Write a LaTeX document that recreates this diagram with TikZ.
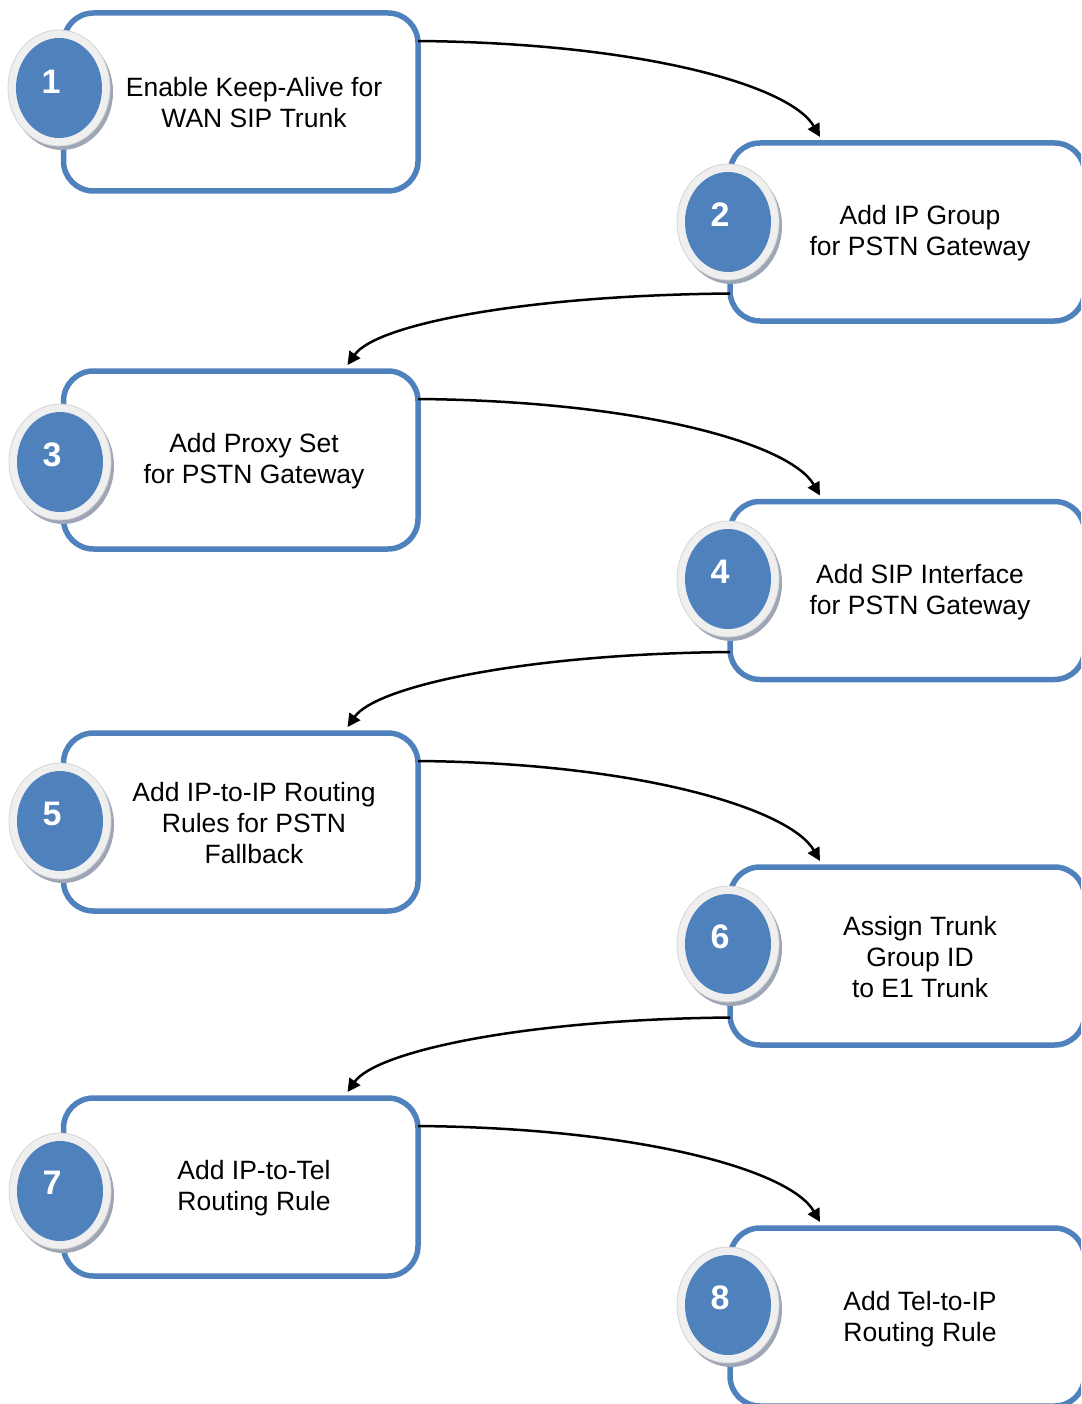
\documentclass[tikz,border=0pt]{standalone}
\usepackage{fontspec}
\setmainfont{Liberation Sans}
\usetikzlibrary{arrows.meta,shapes.geometric,shadows}

\definecolor{boxblue}{HTML}{4F81BD}
\definecolor{ringgray}{HTML}{EFEFEF}
\definecolor{ringedge}{HTML}{D4D4D4}
\definecolor{shadowgray}{HTML}{9EA6B6}

\tikzset{
  stepbox/.style={rectangle, draw=boxblue, line width=5.5pt, rounded corners=30pt,
    minimum width=354.5pt, minimum height=178pt, outer sep=0pt, inner sep=0pt, fill=white},
  stepcirc/.style={ellipse, minimum width=102pt, minimum height=116pt, inner sep=0pt,
    fill=ringgray, draw=ringedge, line width=0.8pt,
    drop shadow={shadow xshift=3pt, shadow yshift=-4pt, fill=shadowgray, opacity=1},
    path picture={\fill[boxblue] (path picture bounding box.center) ellipse (43pt and 50pt);}},
  stepnum/.style={text=white, font=\fontsize{34}{34}\selectfont\bfseries, inner sep=0pt},
  steptext/.style={align=center, font=\fontsize{26.5}{31}\selectfont, inner sep=0pt},
  conn/.style={draw=black, line width=2.5pt, -{Triangle[length=13pt,width=13pt]}},
}

\begin{document}
\begin{tikzpicture}[x=1pt, y=-1pt]
  \useasboundingbox (0,0) rectangle (1081,1404);
  \clip (0,0) rectangle (1081,1404);

  % step frames
  \node[stepbox] (b1) at (240.75,102) {};
  \node[stepbox] (b2) at (907.25,232) {};
  \node[stepbox] (b3) at (240.75,460) {};
  \node[stepbox] (b4) at (907.25,590.5) {};
  \node[stepbox] (b5) at (240.75,822) {};
  \node[stepbox] (b6) at (907.25,956) {};
  \node[stepbox] (b7) at (240.75,1187) {};
  \node[stepbox] (b8) at (907.25,1317) {};

  % step captions
  \node[steptext] (t1) at (254,103) {Enable Keep-Alive for\\WAN SIP Trunk};
  \node[steptext] (t2) at (920,233) {Add IP Group\\for PSTN Gateway};
  \node[steptext] (t3) at (254,461) {Add Proxy Set\\for PSTN Gateway};
  \node[steptext] (t4) at (920,592) {Add SIP Interface\\for PSTN Gateway};
  \node[steptext] (t5) at (254,823) {Add IP-to-IP Routing\\Rules for PSTN\\Fallback};
  \node[steptext] (t6) at (920,957) {Assign Trunk\\Group ID\\to E1 Trunk};
  \node[steptext] (t7) at (254,1188) {Add IP-to-Tel\\Routing Rule};
  \node[steptext] (t8) at (920,1319) {Add Tel-to-IP\\Routing Rule};

  % connectors between consecutive steps
  \draw[conn] ([yshift=-28pt]b1.north east) .. controls +(222,2) and +(-30,-52) .. ([xshift=90pt,yshift=6pt]b2.north west);
  \draw[conn] ([yshift=27.5pt]b2.south west) .. controls +(-210,2) and +(28,-40) .. ([xshift=284pt,yshift=6pt]b3.north west);
  \draw[conn] ([yshift=-28pt]b3.north east) .. controls +(222,2) and +(-30,-52) .. ([xshift=90pt,yshift=6pt]b4.north west);
  \draw[conn] ([yshift=27.5pt]b4.south west) .. controls +(-210,2) and +(28,-40) .. ([xshift=284pt,yshift=6pt]b5.north west);
  \draw[conn] ([yshift=-28pt]b5.north east) .. controls +(222,2) and +(-30,-52) .. ([xshift=90pt,yshift=6pt]b6.north west);
  \draw[conn] ([yshift=27.5pt]b6.south west) .. controls +(-210,2) and +(28,-40) .. ([xshift=284pt,yshift=6pt]b7.north west);
  \draw[conn] ([yshift=-28pt]b7.north east) .. controls +(222,2) and +(-30,-52) .. ([xshift=90pt,yshift=6pt]b8.north west);

  % numbered badges
  \node[stepcirc] (c1) at (59,88) {};
  \node[stepcirc] (c2) at (728,222) {};
  \node[stepcirc] (c3) at (60,462) {};
  \node[stepcirc] (c4) at (728,579) {};
  \node[stepcirc] (c5) at (60,821) {};
  \node[stepcirc] (c6) at (728,944) {};
  \node[stepcirc] (c7) at (60,1191) {};
  \node[stepcirc] (c8) at (728,1305) {};

  \node[stepnum] (n1) at (51,82) {1};
  \node[stepnum] (n2) at (720,215) {2};
  \node[stepnum] (n3) at (52,455) {3};
  \node[stepnum] (n4) at (720,572) {4};
  \node[stepnum] (n5) at (52,814) {5};
  \node[stepnum] (n6) at (720,937) {6};
  \node[stepnum] (n7) at (52,1183) {7};
  \node[stepnum] (n8) at (720,1298) {8};
\end{tikzpicture}
\end{document}
